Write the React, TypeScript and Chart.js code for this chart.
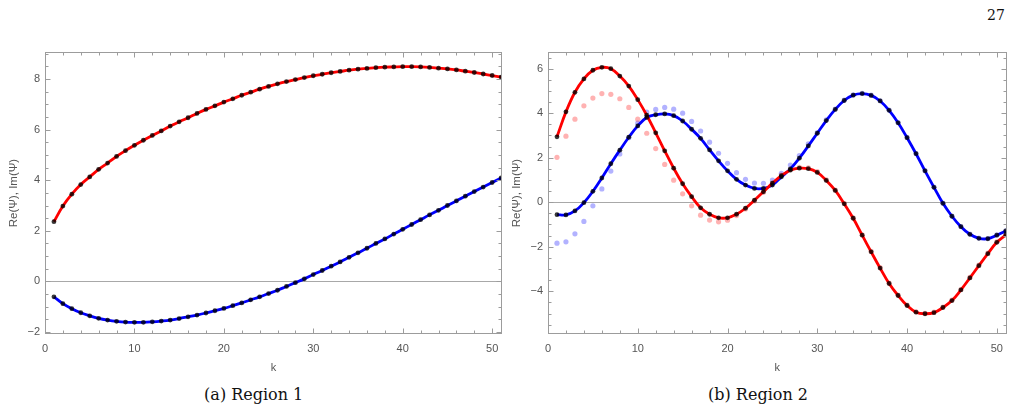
import React, { useEffect, useRef } from 'react';
import { Chart, registerables } from 'chart.js';

Chart.register(...registerables);

// Site index k
const kValues = [
  1, 2, 3, 4, 5, 6, 7, 8, 9, 10, 11, 12, 13, 14, 15, 16, 17, 18, 19, 20, 21, 22, 23, 24, 25, 26,
  27, 28, 29, 30, 31, 32, 33, 34, 35, 36, 37, 38, 39, 40, 41, 42, 43, 44, 45, 46, 47, 48, 49, 50, 51,
];

// Region 1: real and imaginary parts of Psi
const region1Re = [
  2.36, 2.98, 3.45, 3.83, 4.13, 4.43, 4.68, 4.94, 5.17, 5.38, 5.58, 5.77, 5.95, 6.14, 6.31, 6.47,
  6.64, 6.8, 6.94, 7.09, 7.22, 7.36, 7.48, 7.6, 7.71, 7.81, 7.9, 7.98, 8.06, 8.13, 8.19, 8.25, 8.3,
  8.35, 8.39, 8.42, 8.45, 8.47, 8.48, 8.49, 8.49, 8.48, 8.46, 8.43, 8.4, 8.36, 8.31, 8.26, 8.2, 8.14,
  8.08,
];
const region1Im = [
  -0.61, -0.88, -1.08, -1.24, -1.36, -1.46, -1.53, -1.58, -1.61, -1.62, -1.62, -1.6, -1.57, -1.53,
  -1.47, -1.4, -1.33, -1.25, -1.16, -1.07, -0.96, -0.85, -0.73, -0.61, -0.48, -0.35, -0.2, -0.05, 0.1,
  0.27, 0.43, 0.6, 0.77, 0.95, 1.13, 1.31, 1.5, 1.68, 1.87, 2.06, 2.25, 2.44, 2.63, 2.81, 3.0, 3.18,
  3.37, 3.55, 3.73, 3.91, 4.09,
];

// Region 2: real and imaginary parts of Psi
const region2Re = [
  2.94, 4.06, 4.94, 5.54, 5.93, 6.06, 6.0, 5.67, 5.22, 4.61, 3.91, 3.12, 2.31, 1.53, 0.83, 0.25,
  -0.25, -0.54, -0.7, -0.7, -0.54, -0.27, 0.09, 0.47, 0.86, 1.2, 1.44, 1.53, 1.51, 1.34, 0.98, 0.53,
  -0.07, -0.72, -1.48, -2.23, -2.96, -3.65, -4.19, -4.64, -4.94, -5.01, -4.96, -4.73, -4.42, -3.94,
  -3.4, -2.85, -2.31, -1.8, -1.47,
];
const region2Im = [
  -0.56, -0.57, -0.39, -0.02, 0.49, 1.09, 1.73, 2.34, 2.92, 3.43, 3.81, 3.93, 3.97, 3.89, 3.65, 3.28,
  2.87, 2.35, 1.86, 1.41, 1.03, 0.77, 0.62, 0.62, 0.77, 1.14, 1.5, 1.98, 2.53, 3.1, 3.67, 4.17, 4.57,
  4.81, 4.88, 4.8, 4.55, 4.13, 3.57, 2.9, 2.18, 1.41, 0.67, -0.05, -0.63, -1.1, -1.44, -1.62, -1.64,
  -1.48, -1.29,
];

// Region 2: approximate solution (faint markers)
const region2ReApprox = [
  2.02, 2.97, 3.73, 4.33, 4.68, 4.88, 4.85, 4.65, 4.26, 3.73, 3.1, 2.41, 1.7, 0.99, 0.38, -0.16,
  -0.58, -0.8, -0.88, -0.81, -0.6, -0.3, 0.06, 0.45, 0.86, 1.22, 1.47, 1.57, 1.55, 1.38, 1.01, 0.55,
  -0.05, -0.7, -1.46, -2.21, -2.94, -3.63, -4.17, -4.62, -4.92, -4.99, -4.94, -4.71, -4.4, -3.92,
  -3.38, -2.83, -2.29, -1.78, -1.45,
];
const region2ImApprox = [
  -1.84, -1.78, -1.42, -0.86, -0.16, 0.6, 1.4, 2.17, 2.9, 3.55, 4.05, 4.17, 4.26, 4.18, 4.0, 3.63,
  3.2, 2.7, 2.2, 1.75, 1.33, 1.03, 0.86, 0.85, 1.0, 1.3, 1.67, 2.1, 2.62, 3.13, 3.7, 4.19, 4.59, 4.82,
  4.89, 4.81, 4.56, 4.14, 3.58, 2.91, 2.19, 1.42, 0.68, -0.04, -0.62, -1.09, -1.43, -1.61, -1.63,
  -1.47, -1.28,
];

const xTickValues = [0, 10, 20, 30, 40, 50];
const region1YTicks = [-2, 0, 2, 4, 6, 8];
const region2YTicks = [-4, -2, 0, 2, 4, 6];

const xTitle = 'k';
const yTitle = 'Re(Ψ), Im(Ψ)';
const captions = ['(a) Region 1', '(b) Region 2'];
const pageNumber = '27';

const FRAME = '#9c9c9c';
const LABEL = '#555555';
const SANS = "'Liberation Sans', Arial, sans-serif";
const SERIF = "'DejaVu Serif', serif";

// Frame with inward major/minor ticks on all four sides, plus the y = 0 rule
const framePlugin = {
  id: 'frame',
  beforeDatasetsDraw(chart: any) {
    const { ctx, chartArea: a, scales } = chart;
    const y0 = Math.round(scales.y.getPixelForValue(0)) + 0.5;
    ctx.save();
    ctx.strokeStyle = '#a8a8a8';
    ctx.lineWidth = 1;
    ctx.beginPath();
    ctx.moveTo(a.left, y0);
    ctx.lineTo(a.right, y0);
    ctx.stroke();
    ctx.restore();
  },
  afterDraw(chart: any, _args: any, opts: any) {
    const { ctx, chartArea: a, scales } = chart;
    const L = Math.round(a.left) + 0.5;
    const R = Math.round(a.right) - 0.5;
    const T = Math.round(a.top) + 0.5;
    const B = Math.round(a.bottom) - 0.5;
    ctx.save();
    ctx.strokeStyle = FRAME;
    ctx.lineWidth = 1;
    ctx.strokeRect(L, T, R - L, B - T);
    ctx.beginPath();
    const eps = 1e-6;
    const xs = scales.x;
    for (let v = Math.ceil(xs.min / opts.xMinor) * opts.xMinor; v <= xs.max + eps; v += opts.xMinor) {
      const major = Math.abs(v / opts.xMajor - Math.round(v / opts.xMajor)) < eps;
      const len = major ? 5 : 3;
      const px = Math.round(xs.getPixelForValue(v)) + 0.5;
      ctx.moveTo(px, B);
      ctx.lineTo(px, B - len);
      ctx.moveTo(px, T);
      ctx.lineTo(px, T + len);
    }
    const ys = scales.y;
    for (let v = Math.ceil(ys.min / opts.yMinor) * opts.yMinor; v <= ys.max + eps; v += opts.yMinor) {
      const major = Math.abs(v / opts.yMajor - Math.round(v / opts.yMajor)) < eps;
      const len = major ? 5 : 3;
      const py = Math.round(ys.getPixelForValue(v)) + 0.5;
      ctx.moveTo(L, py);
      ctx.lineTo(L + len, py);
      ctx.moveTo(R, py);
      ctx.lineTo(R - len, py);
    }
    ctx.stroke();
    ctx.restore();
  },
};

type PanelProps = {
  re: number[];
  im: number[];
  reApprox?: number[];
  imApprox?: number[];
  yMin: number;
  yMax: number;
  yTicks: number[];
  left: number;
  width: number;
  padRight: number;
};

function PsiPanel({ re, im, reApprox, imApprox, yMin, yMax, yTicks, left, width, padRight }: PanelProps) {
  const ref = useRef<HTMLCanvasElement>(null);

  useEffect(() => {
    if (!ref.current) return;
    const pts = (vals: number[]) => kValues.map((k, i) => ({ x: k, y: vals[i] }));
    const dots = (vals: number[], color: string, order: number, r: number) => ({
      data: pts(vals),
      showLine: false,
      pointRadius: r,
      pointBackgroundColor: color,
      pointBorderWidth: 0,
      order,
    });
    const curve = (vals: number[], color: string) => ({
      data: pts(vals),
      showLine: true,
      borderColor: color,
      borderWidth: 2.8,
      tension: 0.4,
      pointRadius: 0,
      order: 1,
    });

    const datasets: any[] = [
      dots(re, 'rgba(0,0,0,0.78)', 0, 2.4),
      dots(im, 'rgba(0,0,0,0.78)', 0, 2.4),
      curve(re, '#ff0000'),
      curve(im, '#0000ff'),
    ];
    if (reApprox) datasets.push(dots(reApprox, 'rgba(255,0,0,0.3)', 2, 2.6));
    if (imApprox) datasets.push(dots(imApprox, 'rgba(0,0,255,0.3)', 2, 2.6));

    const tickFont = { family: SANS, size: 11 };
    const minus = (v: any) => String(v).replace('-', '\u2212');

    const chart = new Chart(ref.current, {
      type: 'scatter',
      data: { datasets },
      plugins: [framePlugin],
      options: {
        animation: false,
        responsive: false,
        events: [],
        layout: { padding: { top: 12, right: padRight, left: 0, bottom: 0 } },
        plugins: {
          legend: { display: false },
          tooltip: { enabled: false },
          frame: { xMinor: 2, xMajor: 10, yMinor: 0.5, yMajor: 2 },
        } as any,
        scales: {
          x: {
            type: 'linear',
            min: 0,
            max: 51.1,
            grid: { display: false, drawTicks: false },
            border: { display: false },
            ticks: { padding: 8, font: tickFont, color: LABEL, maxRotation: 0, autoSkip: false, callback: minus },
            title: {
              display: true,
              text: xTitle,
              font: { family: SANS, size: 11 },
              color: LABEL,
              padding: { top: 0, bottom: 5 },
            },
            afterBuildTicks: (s: any) => {
              s.ticks = xTickValues.map((v) => ({ value: v }));
            },
            afterFit: (s: any) => {
              s.height = 46;
            },
          },
          y: {
            type: 'linear',
            min: yMin,
            max: yMax,
            grid: { display: false, drawTicks: false },
            border: { display: false },
            ticks: { padding: 5, font: tickFont, color: LABEL, autoSkip: false, callback: minus },
            title: {
              display: true,
              text: yTitle,
              font: { family: SANS, size: 11.5 },
              color: LABEL,
              padding: { top: 7, bottom: 0 },
            },
            afterBuildTicks: (s: any) => {
              s.ticks = yTicks.map((v) => ({ value: v }));
            },
            afterFit: (s: any) => {
              s.width = 45;
            },
          },
        },
      } as any,
    });
    return () => chart.destroy();
  }, []);

  return (
    <canvas
      ref={ref}
      width={width}
      height={340}
      style={{ position: 'absolute', left, top: 40, width, height: 340 }}
    />
  );
}

export default function App() {
  const captionStyle = (cx: number): React.CSSProperties => ({
    position: 'absolute',
    left: cx,
    top: 385,
    transform: 'translateX(-50%)',
    fontFamily: SERIF,
    fontSize: 16,
    lineHeight: '20px',
    color: '#111',
    whiteSpace: 'nowrap',
  });
  return (
    <div
      style={{
        position: 'fixed',
        left: 0,
        top: 0,
        width: 1020,
        height: 413,
        background: '#ffffff',
        overflow: 'hidden',
      }}
    >
      <div
        style={{
          position: 'absolute',
          left: 987,
          top: 5,
          fontFamily: SERIF,
          fontSize: 14,
          lineHeight: '20px',
          color: '#111',
        }}
      >
        {pageNumber}
      </div>
      <PsiPanel
        re={region1Re}
        im={region1Im}
        yMin={-2.08}
        yMax={9.07}
        yTicks={region1YTicks}
        left={0}
        width={515}
        padRight={13}
      />
      <PsiPanel
        re={region2Re}
        im={region2Im}
        reApprox={region2ReApprox}
        imApprox={region2ImApprox}
        yMin={-5.92}
        yMax={6.75}
        yTicks={region2YTicks}
        left={503}
        width={517}
        padRight={13.3}
      />
      <div style={captionStyle(253.7)}>{captions[0]}</div>
      <div style={captionStyle(758)}>{captions[1]}</div>
    </div>
  );
}
